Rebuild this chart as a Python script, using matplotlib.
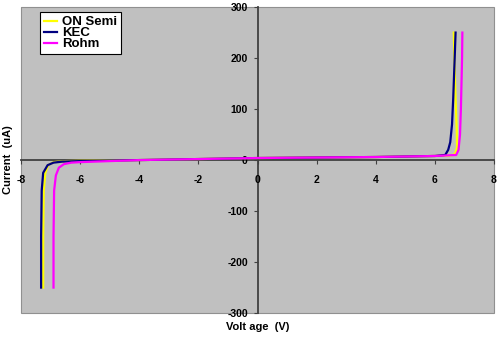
import matplotlib
matplotlib.use('Agg')
import matplotlib.pyplot as plt
from matplotlib.patches import Rectangle

# series (voltage V, current uA)
on_semi_v = [-7.25, -7.25, -7.23, -7.18, -7.08, -6.9, -6.5, -5.5, -4.0, -2.0, 0.0, 2.0, 4.0, 6.0, 6.55, 6.68, 6.75, 6.74, 6.7, 6.66, 6.64]
on_semi_i = [-250, -150, -60, -25, -10, -4, -2, -1, 0, 2, 4, 5, 6, 8, 9, 12, 25, 60, 120, 200, 250]

kec_v = [-7.32, -7.32, -7.3, -7.25, -7.1, -6.9, -6.6, -6.0, -4.0, -2.0, 0.0, 2.0, 4.0, 6.0, 6.35, 6.45, 6.52, 6.58, 6.62, 6.67, 6.7]
kec_i = [-250, -150, -60, -25, -10, -5, -3, -2, 0, 2, 4, 5, 6, 8, 10, 20, 35, 70, 120, 200, 250]

rohm_v = [-6.9, -6.9, -6.88, -6.82, -6.72, -6.55, -6.3, -6.0, -4.0, -2.0, 0.0, 2.0, 4.0, 6.0, 6.72, 6.8, 6.85, 6.88, 6.9, 6.92, 6.93]
rohm_i = [-250, -150, -60, -30, -15, -8, -5, -4, 0, 2, 4, 5, 6, 8, 10, 20, 50, 100, 150, 200, 250]

series = [
    ('ON Semi', on_semi_v, on_semi_i, '#FFFF00'),
    ('KEC', kec_v, kec_i, '#000080'),
    ('Rohm', rohm_v, rohm_i, '#FF00FF'),
]

x_ticks = [-8, -6, -4, -2, 0, 2, 4, 6, 8]
y_ticks = [-300, -200, -100, 0, 100, 200, 300]

fig = plt.figure(figsize=(5, 3.37), dpi=100)
ax = fig.add_axes([0.042, 0.071, 0.946, 0.908])
ax.set_facecolor('#C0C0C0')

for name, v, i, c in series:
    ax.plot(v, i, color=c, lw=1.6, label=name)

ax.set_xlim(-8, 8)
ax.set_ylim(-300, 300)

# axes cross in the middle
ax.spines['left'].set_position('zero')
ax.spines['bottom'].set_position('zero')
ax.spines['top'].set_visible(False)
ax.spines['right'].set_visible(False)
for s in ['left', 'bottom']:
    ax.spines[s].set_color('#404040')
    ax.spines[s].set_linewidth(1.3)
    ax.spines[s].set_zorder(1)
ax.add_patch(Rectangle((0, 0), 1, 1, transform=ax.transAxes, fill=False,
                       ec='#909090', lw=0.8, clip_on=False))

ax.set_xticks(x_ticks)
ax.set_yticks(y_ticks)
ax.set_xticklabels([str(t) for t in x_ticks])
ax.set_yticklabels([str(t) for t in y_ticks])
ax.tick_params(axis='x', direction='out', length=3, width=0.8, color='#404040', pad=8,
               labelsize=7.5)
ax.tick_params(axis='y', direction='out', length=3, width=0.8, color='#404040', pad=4,
               labelsize=7.5)
for lab in ax.get_xticklabels() + ax.get_yticklabels():
    lab.set_fontfamily('Liberation Sans')
    lab.set_fontweight('bold')

fig.text(0.016, 0.525, 'Current  (uA)', rotation=90, ha='center', va='center',
         fontsize=8, family='Liberation Sans', fontweight='bold')
fig.text(0.516, 0.03, 'Volt age  (V)', ha='center', va='center',
         fontsize=8, family='Liberation Sans', fontweight='bold')

leg = ax.legend(loc='upper left', bbox_to_anchor=(0.04, 0.983), frameon=True,
                fancybox=False, framealpha=1, edgecolor='black',
                prop={'family': 'Liberation Sans', 'weight': 'bold', 'size': 9.5},
                handlelength=1.0, handletextpad=0.35, labelspacing=-0.1,
                borderpad=0.3, borderaxespad=0)
leg.get_frame().set_linewidth(0.8)

fig.savefig('out.png', dpi=100)
